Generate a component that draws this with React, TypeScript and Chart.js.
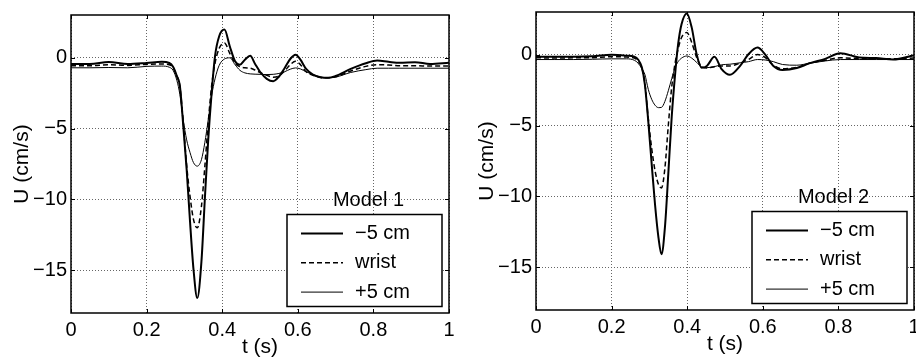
import React, { useEffect, useRef } from "react";
import { Chart, registerables } from "chart.js";

Chart.register(...registerables);

const FONT = "'Liberation Sans', Arial, Helvetica, sans-serif";

const X_TICKS = [0, 0.2, 0.4, 0.6, 0.8, 1];
const Y_TICKS = [-15, -10, -5, 0];
const SERIES_LABELS = ["\u22125 cm", "wrist", "+5 cm"];

// Model 1
const M1_T = [0, 0.05, 0.1, 0.15, 0.2, 0.24, 0.26, 0.27, 0.28, 0.288, 0.297, 0.306, 0.315, 0.324, 0.334, 0.345, 0.354, 0.363, 0.372, 0.381, 0.392, 0.406, 0.42, 0.434, 0.447, 0.46, 0.474, 0.487, 0.5, 0.518, 0.535, 0.55, 0.565, 0.58, 0.594, 0.607, 0.622, 0.64, 0.66, 0.68, 0.7, 0.74, 0.78, 0.81, 0.84, 0.87, 0.91, 0.95, 1.0];
const M1_MINUS5 = [-0.45, -0.45, -0.32, -0.45, -0.38, -0.3, -0.38, -0.65, -1.3, -2.0, -4.8, -7.9, -11.6, -14.9, -16.95, -14.4, -10.0, -5.8, -2.5, 0.1, 1.5, 1.97, 0.8, -0.26, -0.5, -0.15, 0.12, -0.45, -1.0, -1.5, -1.67, -1.35, -0.75, -0.1, 0.2, -0.15, -0.8, -1.2, -1.38, -1.43, -1.3, -0.8, -0.4, -0.21, -0.3, -0.37, -0.33, -0.45, -0.37];
const M1_WRIST = [-0.58, -0.58, -0.5, -0.55, -0.48, -0.45, -0.5, -0.7, -1.3, -2.0, -4.6, -7.6, -9.8, -11.4, -12.0, -10.5, -7.7, -4.6, -2.0, -0.4, 0.65, 1.03, 0.3, -0.4, -0.65, -0.72, -0.75, -0.88, -1.05, -1.25, -1.38, -1.3, -0.95, -0.5, -0.26, -0.5, -1.0, -1.25, -1.4, -1.43, -1.35, -0.95, -0.62, -0.5, -0.52, -0.58, -0.58, -0.6, -0.6];
const M1_PLUS5 = [-0.72, -0.72, -0.7, -0.72, -0.62, -0.6, -0.68, -0.9, -1.6, -2.6, -4.4, -5.8, -6.7, -7.4, -7.65, -7.2, -6.0, -4.4, -2.7, -1.5, -0.55, -0.1, -0.02, -0.5, -0.9, -1.08, -1.15, -1.17, -1.18, -1.2, -1.18, -1.12, -1.0, -0.82, -0.73, -0.8, -1.0, -1.2, -1.38, -1.43, -1.38, -1.05, -0.85, -0.75, -0.75, -0.75, -0.75, -0.75, -0.75];

// Model 2
const M2_T = [0, 0.05, 0.1, 0.15, 0.2, 0.24, 0.26, 0.27, 0.28, 0.288, 0.297, 0.306, 0.315, 0.324, 0.332, 0.341, 0.35, 0.359, 0.368, 0.376, 0.385, 0.399, 0.412, 0.425, 0.438, 0.452, 0.472, 0.491, 0.513, 0.54, 0.562, 0.586, 0.606, 0.628, 0.652, 0.69, 0.725, 0.765, 0.805, 0.855, 0.9, 0.945, 1.0];
const M2_MINUS5 = [-0.15, -0.15, -0.15, -0.12, -0.02, -0.08, -0.15, -0.35, -0.9, -2.1, -4.7, -7.7, -10.6, -12.9, -14.08, -12.2, -8.4, -4.4, -1.4, 0.73, 2.14, 2.9, 1.9, 0.02, -0.92, -0.8, -0.16, -1.03, -1.43, -0.8, 0.02, 0.49, 0.02, -0.8, -1.08, -0.95, -0.6, -0.3, 0.1, -0.2, -0.25, -0.35, -0.05];
const M2_WRIST = [-0.22, -0.25, -0.23, -0.22, -0.15, -0.18, -0.25, -0.45, -0.95, -2.0, -4.5, -6.6, -8.2, -9.15, -9.4, -8.0, -5.0, -2.3, -0.6, 0.4, 1.2, 1.55, 0.85, -0.2, -0.85, -0.95, -0.85, -0.8, -0.8, -0.6, -0.35, 0.0, -0.2, -0.75, -1.0, -0.9, -0.6, -0.4, -0.23, -0.28, -0.3, -0.3, -0.25];
const M2_PLUS5 = [-0.35, -0.35, -0.35, -0.33, -0.3, -0.3, -0.4, -0.6, -1.0, -1.4, -2.45, -3.15, -3.57, -3.74, -3.72, -3.3, -2.55, -1.7, -0.92, -0.5, -0.25, -0.1, -0.25, -0.55, -0.87, -0.92, -0.85, -0.72, -0.68, -0.58, -0.5, -0.35, -0.38, -0.5, -0.7, -0.75, -0.6, -0.45, -0.35, -0.35, -0.35, -0.35, -0.35];

const W = 470;
const H = 358;

const fmtNum = (v: number) => (v < 0 ? "\u2212" + String(Math.abs(v)) : String(v));

const decorPlugin = {
  id: "decor",
  afterDatasetsDraw(chart: any, _args: any, opts: any) {
    const { ctx, chartArea: a } = chart;
    const xs = chart.scales.x;
    const ys = chart.scales.y;
    ctx.save();
    ctx.strokeStyle = "#000";
    ctx.lineWidth = 1;
    ctx.setLineDash([]);
    ctx.beginPath();
    for (const v of X_TICKS) {
      const px = Math.round(xs.getPixelForValue(v)) + 0.5;
      ctx.moveTo(px, a.bottom);
      ctx.lineTo(px, a.bottom - 4);
      ctx.moveTo(px, a.top);
      ctx.lineTo(px, a.top + 4);
    }
    for (const v of Y_TICKS) {
      const py = Math.round(ys.getPixelForValue(v)) + 0.5;
      ctx.moveTo(a.left, py);
      ctx.lineTo(a.left + 4, py);
      ctx.moveTo(a.right, py);
      ctx.lineTo(a.right - 4, py);
    }
    ctx.stroke();
    ctx.lineWidth = 1.5;
    ctx.strokeRect(a.left, a.top, a.right - a.left, a.bottom - a.top);

    // legend
    const bw = 155;
    const bh = 92;
    const bx = a.right - 7 - bw;
    const by = a.bottom - 6.5 - bh;
    ctx.font = `20px ${FONT}`;
    ctx.fillStyle = "#000";
    ctx.textAlign = "center";
    ctx.textBaseline = "middle";
    ctx.fillText(opts.label, bx + bw / 2 + 4, by - 14);
    ctx.fillStyle = "#fff";
    ctx.fillRect(bx, by, bw, bh);
    ctx.lineWidth = 1.5;
    ctx.strokeRect(bx, by, bw, bh);
    ctx.textAlign = "left";
    chart.data.datasets.forEach((ds: any, i: number) => {
      const ry = by + 19 + i * 29.3;
      ctx.save();
      ctx.lineWidth = ds.borderWidth;
      ctx.setLineDash(ds.borderDash || []);
      ctx.beginPath();
      ctx.moveTo(bx + 14, ry);
      ctx.lineTo(bx + 56, ry);
      ctx.stroke();
      ctx.restore();
      ctx.fillStyle = "#000";
      ctx.fillText(ds.label, bx + 68, ry);
    });
    ctx.restore();
  },
};

type PanelProps = {
  left: number;
  top: number;
  label: string;
  t: number[];
  a: number[];
  b: number[];
  c: number[];
};

function Panel({ left, top, label, t, a, b, c }: PanelProps) {
  const ref = useRef<HTMLCanvasElement>(null);
  useEffect(() => {
    if (!ref.current) return;
    const pts = (arr: number[]) => t.map((x, i) => ({ x, y: arr[i] }));
    const chart = new Chart(ref.current, {
      type: "line",
      data: {
        datasets: [
          { label: SERIES_LABELS[0], data: pts(a), borderColor: "#000", borderWidth: 2, borderDash: [] },
          { label: SERIES_LABELS[1], data: pts(b), borderColor: "#000", borderWidth: 1.5, borderDash: [5, 3] },
          { label: SERIES_LABELS[2], data: pts(c), borderColor: "#000", borderWidth: 1, borderDash: [] },
        ],
      },
      options: {
        responsive: false,
        animation: false,
        devicePixelRatio: 1,
        layout: { padding: { top: 15, right: W - 449, left: 0, bottom: 0 } },
        elements: {
          point: { radius: 0 },
          line: { cubicInterpolationMode: "monotone", fill: false },
        },
        plugins: {
          legend: { display: false },
          tooltip: { enabled: false },
          decor: { label },
        } as any,
        scales: {
          x: {
            type: "linear",
            min: 0,
            max: 1,
            afterBuildTicks: (s: any) => {
              s.ticks = X_TICKS.map((v) => ({ value: v }));
            },
            afterFit: (s: any) => {
              s.height = 45;
              s.paddingLeft = 0;
              s.paddingRight = 0;
            },
            grid: { color: "#666", lineWidth: 1, drawTicks: false },
            border: { display: false, dash: [1, 2] },
            ticks: {
              padding: 5,
              color: "#000",
              maxRotation: 0,
              autoSkip: false,
              font: { size: 20, family: FONT },
              callback: (v: any) => fmtNum(Number(v)),
            },
            title: {
              display: true,
              text: "t (s)",
              color: "#000",
              font: { size: 21, family: FONT, lineHeight: 1 },
              padding: 0,
            },
          },
          y: {
            type: "linear",
            min: -18,
            max: 3,
            afterBuildTicks: (s: any) => {
              s.ticks = Y_TICKS.map((v) => ({ value: v }));
            },
            afterFit: (s: any) => {
              s.width = 71;
              s.paddingTop = 0;
              s.paddingBottom = 0;
            },
            grid: { color: "#666", lineWidth: 1, drawTicks: false },
            border: { display: false, dash: [1, 2] },
            ticks: {
              padding: 4,
              color: "#000",
              autoSkip: false,
              font: { size: 20, family: FONT },
              callback: (v: any) => fmtNum(Number(v)),
            },
            title: {
              display: true,
              text: "U (cm/s)",
              color: "#000",
              font: { size: 21, family: FONT, lineHeight: 1 },
              padding: { top: 12, bottom: 0 },
            },
          },
        },
      },
      plugins: [decorPlugin],
    } as any);
    return () => chart.destroy();
  }, []);
  return (
    <canvas
      ref={ref}
      width={W}
      height={H}
      style={{ position: "absolute", left, top, width: W, height: H }}
    />
  );
}

export default function App() {
  return (
    <div
      style={{
        position: "absolute",
        left: 0,
        top: 0,
        width: 916,
        height: 358,
        overflow: "hidden",
        background: "#fff",
      }}
    >
      <Panel left={0} top={0} label="Model 1" t={M1_T} a={M1_MINUS5} b={M1_WRIST} c={M1_PLUS5} />
      <Panel left={465} top={-3} label="Model 2" t={M2_T} a={M2_MINUS5} b={M2_WRIST} c={M2_PLUS5} />
    </div>
  );
}
